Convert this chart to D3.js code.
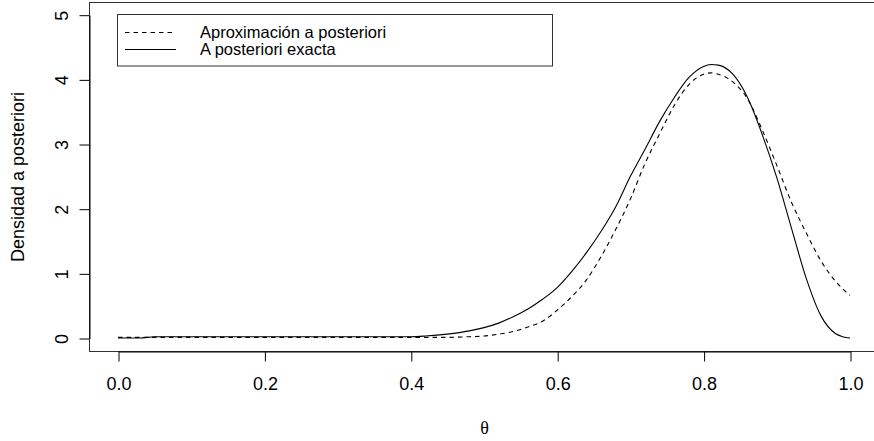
<!DOCTYPE html>
<html>
<head>
<meta charset="utf-8">
<script src="https://cdn.jsdelivr.net/npm/d3@7"></script>
<style>
  html, body { margin: 0; padding: 0; background: #fff; }
  svg { display: block; }
  text { font-family: "Liberation Sans", Arial, Helvetica, sans-serif; fill: #000; }
</style>
</head>
<body>
<svg id="chart" width="874" height="441"></svg>
<script>
// ---- data ----
const theta = [0, 0.03, 0.05, 0.1, 0.2, 0.3, 0.4, 0.42, 0.45, 0.48, 0.5, 0.52, 0.54, 0.56, 0.58, 0.6,
  0.62, 0.64, 0.66, 0.68, 0.7, 0.72, 0.74, 0.76, 0.78, 0.8, 0.81, 0.82, 0.84, 0.86, 0.88, 0.9,
  0.92, 0.94, 0.96, 0.98, 0.99, 1.0];
const exacta = [0.0, 0.0, 0.02, 0.02, 0.02, 0.02, 0.02, 0.03, 0.06, 0.11, 0.16, 0.23, 0.33, 0.45, 0.60, 0.78,
  1.03, 1.32, 1.65, 2.03, 2.50, 2.92, 3.35, 3.72, 4.03, 4.20, 4.23, 4.22, 4.08, 3.72, 3.15, 2.48,
  1.70, 0.93, 0.35, 0.07, 0.02, 0.0];
const aproximacion = [0.01, 0.01, 0.01, 0.01, 0.01, 0.01, 0.01, 0.01, 0.01, 0.02, 0.03, 0.06, 0.10, 0.17, 0.26, 0.43,
  0.64, 0.90, 1.26, 1.68, 2.15, 2.70, 3.16, 3.60, 3.92, 4.08, 4.10, 4.08, 3.96, 3.70, 3.22, 2.67,
  2.10, 1.63, 1.20, 0.88, 0.76, 0.66];
const xTicks = [0, 0.2, 0.4, 0.6, 0.8, 1.0];
const yTicks = [0, 1, 2, 3, 4, 5];
const legendLabels = ["Aproximación a posteriori", "A posteriori exacta"];
const xLabel = "θ";
const yLabel = "Densidad a posteriori";

// ---- layout ----
const svg = d3.select("#chart");
const x = d3.scaleLinear().domain([0, 1]).range([118, 850]);
const y = d3.scaleLinear().domain([0, 5]).range([338, 14.7]);

// plot box (R style, usr extended 4%)
const bx0 = Math.round(x(-0.04)) + 0.5, bx1 = Math.round(x(1.04)) + 0.5;
const by0 = Math.round(y(5.2)) + 0.5, by1 = Math.round(y(-0.2)) + 0.5;
svg.append("rect")
  .attr("x", bx0).attr("y", by0)
  .attr("width", bx1 - bx0).attr("height", by1 - by0)
  .attr("fill", "none").attr("stroke", "#333").attr("stroke-width", 1);

// x axis
const xAxis = svg.append("g")
  .attr("transform", `translate(0.5,${by1})`)
  .call(d3.axisBottom(x).tickValues(xTicks).tickSize(10).tickSizeOuter(0)
    .tickPadding(16).tickFormat(d3.format(".1f")));
xAxis.selectAll("text").attr("font-size", 18).attr("font-family", null);
xAxis.selectAll("path,line").attr("stroke", "#000");

// y axis
const yAxis = svg.append("g")
  .attr("transform", `translate(${bx0},0.5)`)
  .call(d3.axisLeft(y).tickValues(yTicks).tickSize(10).tickSizeOuter(0).tickFormat(d3.format("d")));
yAxis.selectAll("text")
  .attr("font-size", 18).attr("font-family", null)
  .attr("transform", "rotate(-90)")
  .attr("x", 0).attr("y", -22).attr("dy", 0)
  .attr("text-anchor", "middle");
yAxis.selectAll("path,line").attr("stroke", "#000");
svg.selectAll(".tick text").attr("fill", "#000");

// axis titles
svg.append("text")
  .attr("x", (bx0 + bx1) / 2).attr("y", 434)
  .attr("text-anchor", "middle").attr("font-size", 18)
  .style("font-family", "'Liberation Serif', 'DejaVu Serif', serif")
  .text(xLabel);
svg.append("text")
  .attr("transform", `translate(24,${(by0 + by1) / 2}) rotate(-90)`)
  .attr("text-anchor", "middle").attr("font-size", 18)
  .text(yLabel);

// curves
const pts = (ys) => theta.map((t, i) => [t, ys[i]]);
const line = d3.line().x(d => x(d[0])).y(d => y(d[1])).curve(d3.curveMonotoneX);
svg.append("path")
  .attr("d", line(pts(aproximacion)))
  .attr("fill", "none").attr("stroke", "#000").attr("stroke-width", 1.1)
  .attr("stroke-dasharray", "4.5,4");
svg.append("path")
  .attr("d", line(pts(exacta)))
  .attr("fill", "none").attr("stroke", "#000").attr("stroke-width", 1.1);

// legend
const lg = svg.append("g");
lg.append("rect")
  .attr("x", 117.5).attr("y", 14.5).attr("width", 435).attr("height", 51.5)
  .attr("fill", "#fff").attr("stroke", "#333").attr("stroke-width", 1);
const lineYs = [32.5, 49.5];
const textYs = [37.5, 55];
const dashes = ["4.5,4", null];
legendLabels.forEach((lab, i) => {
  lg.append("line")
    .attr("x1", 125).attr("x2", 176)
    .attr("y1", lineYs[i]).attr("y2", lineYs[i])
    .attr("stroke", "#000").attr("stroke-width", 1.1)
    .attr("stroke-dasharray", dashes[i]);
  lg.append("text")
    .attr("x", 200).attr("y", textYs[i])
    .attr("font-size", 16.5)
    .text(lab);
});
</script>
</body>
</html>
